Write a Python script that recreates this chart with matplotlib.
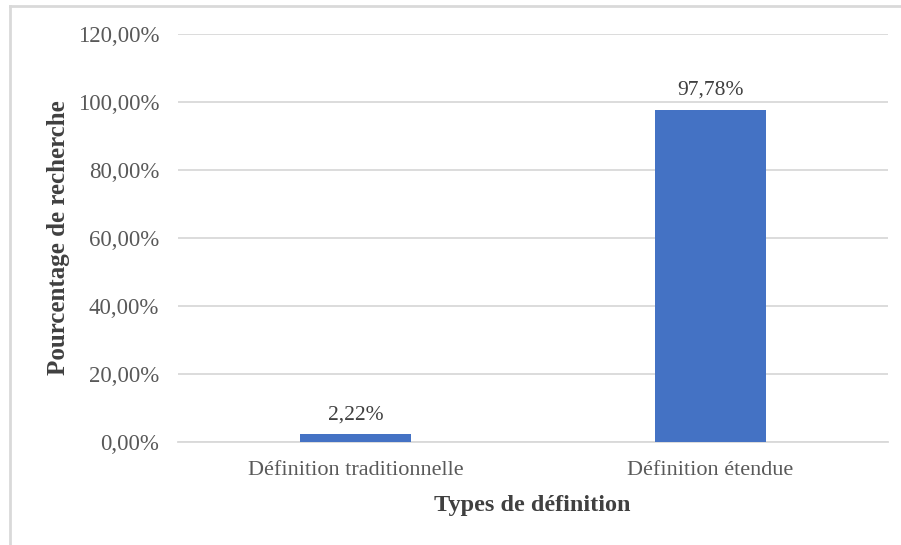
import matplotlib
matplotlib.use("Agg")
import matplotlib.pyplot as plt
from matplotlib.ticker import FuncFormatter
from matplotlib.lines import Line2D

categories = ["Définition traditionnelle", "Définition étendue"]
values = [2.22, 97.78]
yticks = [0, 20, 40, 60, 80, 100, 120]

plt.rcParams['font.family'] = ['Liberation Serif', 'DejaVu Serif']

fig = plt.figure(figsize=(9.01, 5.45), dpi=100)
ax = fig.add_axes([178/901, 1-442/545, 710/901, 408/545])

x = list(range(len(categories)))
bars = ax.bar(x, values, width=0.31, color='#4472C4', zorder=3)
ax.set_xlim(-0.5, len(categories) - 0.5)
ax.set_ylim(0, 120)
ax.set_yticks(yticks)
ax.yaxis.set_major_formatter(FuncFormatter(lambda v, p: f"{v:.2f}%".replace('.', ',')))
ax.set_xticks(x)
ax.set_xticklabels(categories)
ax.grid(axis='y', color='#D9D9D9', linewidth=1.3, zorder=0)
for s in ['top', 'right', 'left']:
    ax.spines[s].set_visible(False)
ax.spines['bottom'].set_color('#D9D9D9')
ax.spines['bottom'].set_linewidth(1.3)
ax.tick_params(axis='both', length=0, colors='#595959')
ax.tick_params(axis='y', pad=13.5, labelsize=16.5)
ax.tick_params(axis='x', pad=13.5, labelsize=16)

for b, v in zip(bars, values):
    ax.annotate(f"{v:.2f}%".replace('.', ','), (b.get_x() + b.get_width()/2, v),
                xytext=(0, 7), textcoords='offset points', ha='center', va='bottom',
                fontsize=15.5, color='#404040')

ax.set_xlabel("Types de définition", fontsize=17.5, fontweight='bold', color='#404040', va='center')
ax.set_ylabel("Pourcentage de recherche", fontsize=18, fontweight='bold', color='#404040', va='center')
ax.xaxis.set_label_coords(0.4986, (442-505)/408)
ax.yaxis.set_label_coords((59-178)/710, (442-238)/408)

fig.add_artist(Line2D([10/901, 10/901], [0, 1-6/545], transform=fig.transFigure, color='#D9D9D9', linewidth=2))
fig.add_artist(Line2D([10/901, 1], [1-6/545, 1-6/545], transform=fig.transFigure, color='#D9D9D9', linewidth=2))

fig.savefig("out.png", dpi=100)
